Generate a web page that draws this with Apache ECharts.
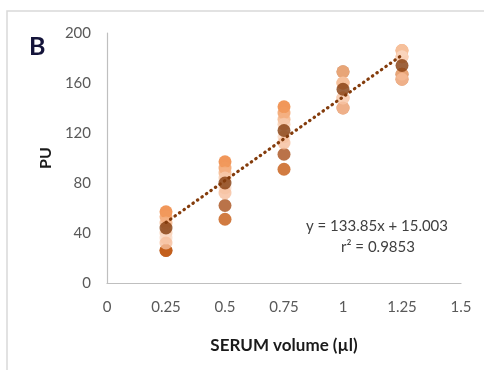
<!DOCTYPE html>
<html><head><meta charset="utf-8">
<script src="https://cdn.jsdelivr.net/npm/echarts@6/dist/echarts.min.js"></script>
<style>html,body{margin:0;padding:0;background:#fff}#c{width:484px;height:370px}</style>
</head><body><div id="c"></div>
<script>
const xValues = [0.25, 0.5, 0.75, 1, 1.25];
const repH = [26, 62, 103, 169, 167];
const repA = [26, 51, 91, 140, 163];
const repB = [57, 97, 141, 160, 186];
const repC = [53, 92, 136, 148, 181];
const repD = [48, 88, 131, 169, 167];
const repE = [40, 84, 127, 160, 186];
const repF = [36, 76, 117, 148, 181];
const repG = [32, 72, 112, 140, 163];
const means = [44, 80, 122, 155, 174];
const slope = 133.85, intercept = 15.003;
const yTicks = [0, 40, 80, 120, 160, 200];
const xTicks = [0, 0.25, 0.5, 0.75, 1, 1.25, 1.5];
const eqText = 'y = 133.85x + 15.003';
const r2Text = 'r\u00B2 = 0.9853';

const font = 'Lato, "Open Sans", sans-serif';
const reps = [
  [repH, '#A9501B'], [repA, '#C55A11'], [repB, '#ED7D31'], [repC, '#F19A5E'],
  [repD, '#F4B183'], [repE, '#F8CBAD'], [repF, '#FAD9C4'], [repG, '#F6BE9C']
];
const pts = arr => xValues.map((x, i) => [x, arr[i]]);
const series = reps.map(([arr, col]) => ({
  type: 'scatter', data: pts(arr), symbolSize: 13, itemStyle: {color: col}, silent: true
}));
const x0 = xValues[0], x1 = xValues[xValues.length - 1];
series.push({
  type: 'line', data: [[x0, slope * x0 + intercept], [x1, slope * x1 + intercept]],
  symbol: 'none', silent: true,
  lineStyle: {color: '#843C0C', width: 3.2, type: [0.5, 5], cap: 'round'}, z: 3
});
series.push({type: 'scatter', data: pts(means), symbolSize: 13, itemStyle: {color: '#843C0C'}, z: 4, silent: true});

const chart = echarts.init(document.getElementById('c'), null, {renderer: 'canvas'});
chart.setOption({
  animation: false,
  grid: {left: 107, right: 23, top: 33, bottom: 87},
  xAxis: {
    type: 'value', min: xTicks[0], max: xTicks[xTicks.length - 1], interval: 0.25,
    name: 'SERUM volume (\u00B5l)', nameLocation: 'middle', nameGap: 54,
    nameTextStyle: {fontFamily: font, fontWeight: 'bold', fontSize: 17, color: '#1a1a1a'},
    axisLine: {lineStyle: {color: '#BFBFBF', width: 1.2}}, axisTick: {show: false},
    splitLine: {show: false},
    axisLabel: {fontFamily: font, fontSize: 15, color: '#595959', margin: 17,
      formatter: v => String(v)}
  },
  yAxis: {
    type: 'value', min: yTicks[0], max: yTicks[yTicks.length - 1], interval: 40,
    name: 'PU', nameLocation: 'middle', nameGap: 42, nameRotate: 90,
    nameTextStyle: {fontFamily: font, fontWeight: 'bold', fontSize: 16, color: '#1a1a1a'},
    axisLine: {show: true, lineStyle: {color: '#BFBFBF', width: 1.2}}, axisTick: {show: false},
    splitLine: {show: false},
    axisLabel: {fontFamily: font, fontSize: 15, color: '#595959', margin: 16}
  },
  graphic: [
    {type: 'rect', shape: {x: 7, y: 11, width: 520, height: 400}, silent: true,
     style: {fill: 'none', stroke: '#D9D9D9', lineWidth: 1.5}},
    {type: 'text', left: 29, top: 34, silent: true,
     style: {text: 'B', font: 'bold 25px ' + font, fill: '#14143a',
       shadowColor: 'rgba(60,80,200,0.6)', shadowBlur: 2, shadowOffsetX: 1, shadowOffsetY: 1}},
    {type: 'text', x: 377, y: 226, silent: true,
     style: {text: eqText, font: '15px ' + font, fill: '#404040', align: 'center', verticalAlign: 'middle'}},
    {type: 'text', x: 378, y: 247, silent: true,
     style: {text: r2Text, font: '15px ' + font, fill: '#404040', align: 'center', verticalAlign: 'middle'}}
  ],
  series: series
});
</script></body></html>
